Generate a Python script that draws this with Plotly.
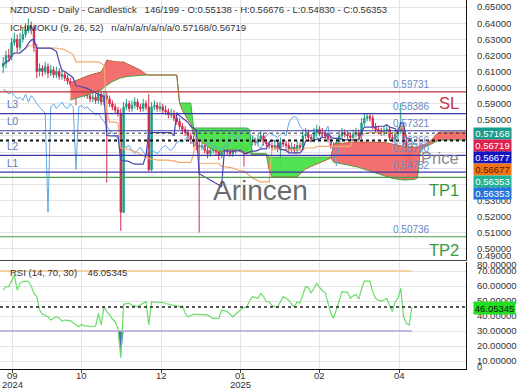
import numpy as np
import plotly.graph_objects as go

# ---------------- data ----------------
first_open_pips = 6130
close_pips = [6150,6200,6190,6280,6300,6250,6300,6330,6360,6380,
              6370,6250,6100,6120,6100,6130,6090,6110,6080,6100,
              6070,6080,6060,6040,6020,6000,5990,5980,5960,5970,
              5950,5930,5940,5920,5960,5910,5950,5930,5900,5880,
              5860,5840,5226,5880,5900,5870,5890,5910,5880,5870,
              5900,5880,5490,5880,5890,5870,5880,5860,5850,5830,
              5840,5810,5790,5760,5740,5720,5700,5680,5660,5640,
              5630,5640,5610,5590,5610,5630,5600,5580,5610,5620,
              5600,5590,5610,5630,5640,5620,5610,5630,5660,5670,
              5660,5680,5700,5660,5650,5640,5630,5640,5620,5660,
              5650,5640,5620,5630,5610,5640,5630,5700,5710,5690,
              5680,5720,5740,5720,5710,5700,5680,5640,5620,5660,
              5700,5720,5710,5700,5690,5710,5720,5700,5780,5810,
              5820,5810,5760,5740,5730,5720,5730,5740,5690,5680,
              5710,5730,5760,5660,5600,5513.8,5635.3]
high_pips = [6190,6230,6240,6310,6340,6330,6340,6370,6400,6430,
             6410,6390,6270,6150,6140,6160,6150,6140,6130,6130,
             6120,6110,6100,6080,6060,6040,6030,6010,6000,6000,
             5990,5970,5970,5960,5990,5980,5980,5970,5950,5920,
             5900,5880,5870,5910,5930,5920,5920,5940,5930,5900,
             5930,5920,5960,5910,5920,5910,5910,5900,5890,5870,
             5870,5860,5830,5810,5780,5760,5740,5720,5700,5680,
             5670,5670,5660,5630,5640,5660,5650,5620,5640,5650,
             5640,5620,5640,5660,5670,5660,5640,5660,5690,5700,
             5690,5710,5730,5720,5680,5670,5660,5670,5660,5690,
             5680,5670,5660,5660,5650,5670,5660,5730,5750,5740,
             5710,5750,5770,5760,5750,5730,5720,5700,5660,5690,
             5730,5750,5740,5730,5720,5740,5750,5740,5810,5840,
             5840,5840,5830,5780,5760,5750,5760,5770,5760,5710,
             5740,5760,5904,5780,5680,5620,5667.6]
low_pips = [6090,6120,6160,6170,6260,6220,6230,6280,6310,6340,
            6330,6220,6060,6070,6070,6080,6060,6070,6060,6060,
            6050,6050,6040,6020,6000,5980,5890,5960,5940,5940,
            5930,5910,5910,5900,5900,5890,5890,5410,5880,5860,
            5840,5820,5110,5220,5860,5850,5850,5870,5860,5850,
            5850,5860,5480,5480,5860,5850,5850,5840,5830,5810,
            5810,5790,5770,5740,5710,5700,5680,5650,5630,5610,
            5100,5610,5590,5560,5570,5590,5580,5550,5560,5590,
            5580,5570,5570,5590,5610,5600,5510,5590,5610,5640,
            5640,5640,5660,5640,5630,5620,5610,5610,5600,5500,
            5630,5620,5600,5600,5590,5590,5610,5610,5680,5670,
            5660,5660,5700,5700,5690,5680,5660,5620,5600,5600,
            5640,5680,5690,5680,5670,5670,5690,5680,5680,5760,
            5790,5790,5740,5720,5710,5700,5700,5710,5670,5660,
            5660,5690,5710,5640,5470,5460,5483]
rsi_values = [57.3,59.6,59.6,63,67.3,57.3,61.8,63,63.3,63,
              60,55,52.9,44,41.1,40.5,39.5,37.3,38.5,39.5,
              38.5,36.7,37.3,37.3,36.9,35.5,34.2,32.9,34.5,33.3,
              33.5,32.9,33.1,33.3,41.8,34,46.2,42.9,40.7,38,
              36.2,31.8,12.2,47.8,48.3,48.5,47.2,46.9,46.2,47.5,
              48.5,49.5,34,49.5,49.3,49.1,49.1,49.1,48.3,47.8,
              47.4,47.3,46.8,46.2,46.9,42,39.5,40.3,41.1,41.1,
              41.1,41,40.8,40.7,39.5,38.4,38.4,38.4,44,43.5,
              42.9,41.2,39.5,41.2,42.9,44.5,45.5,46.2,50,52.9,
              52.4,51.8,55,53,49.5,49.5,47,46.2,45.6,49.5,
              52.9,51.8,50.5,48,46.2,49.5,48.5,54,59.6,58.9,
              55.5,58.5,61.8,59,56.7,55.8,48,41.8,38.4,43.5,
              50,56.2,56,55.8,51.8,53.5,54.4,51.3,58,63.3,
              63.3,63.3,56,51.8,50.5,50,50.7,51.8,47,42.9,
              49.5,51.8,58.4,39.5,35.1,34,46.05345]

# Ichimoku cloud (Senkou spans), starting at bar slot 24
cloud_start = 24
span_a_pips = ([5923,5928,5933,5938,5942,5948,5955,5961,5967,5973,5979,5985,
                6000,6016,6026,6037,6047,6053,6060,6066,6068,6070,6072,6074,6076,6078,6078,6078]
               + [6078] * 11 + [5904] * 5 + [5749] * 20 + [5740] + [5590] * 6 + [5568] * 23
               + [5537,5534,5531,5528,5525,5522,5519,5514,5509,5504,5498,5493,5488,5482,5476,5470,5463,5457]
               + [5451,5445,5439,5436,5433,5430,5428,5426,5426,5426,5426,5430,5439]
               + [5613,5625,5634,5643,5652,5660,5668,5672] + [5675] * 10)
span_b_pips = ([6029,6037,6045,6052,6060,6066,6072,6078,6084,6090,6094,6097,
                6130,6171,6167,6163,6159,6159,6159,6159,6150,6142,6134,6126,6117,6109,6096,6084]
               + [6078] * 11 + [5904,5860,5830,5800,5780]
               + [5706,5690,5675,5660,5643,5633,5623,5613,5608,5604,5600,5606,5613,5613,5613,5613,5606,5600,5600,5597]
               + [5594] + [5581] * 6 + [5488] + [5445] * 10
               + [5463,5482,5495,5503,5510,5518,5526,5533,5540,5548,5555,5562]
               + [5650,5652,5654,5656,5658,5660] + [5662] * 12
               + [5660,5656,5652,5648,5644,5640,5637,5635,5633,5631,5631,5631,5631]
               + [5640,5645,5650,5660,5675,5695,5715,5724] + [5724] * 10)

month_tick_pos = [3.5, 28.1, 56.7, 84.9, 112.8, 141.4]
month_tick_text = ["09", "10", "12", "01", "02", "04"]
year_tick_text = ["2024", "", "", "2025", "", ""]

price_ticks = [0.50, 0.51, 0.52, 0.53, 0.54, 0.55, 0.56, 0.57, 0.58, 0.59,
               0.60, 0.61, 0.62, 0.63, 0.64, 0.65]
rsi_ticks = [10, 20, 30, 40, 50, 60, 70]

level_names = ["SL", "L3", "L0", "L2", "L1", "TP1", "TP2"]
level_values = [0.59731, 0.58386, 0.57321, 0.55790, 0.54752, 0.54429, 0.50736]
level_colors = ["#b83236", "#3a3aa6", "#3a3aa6", "#3a3aa6", "#3a3aa6", "#4b9b4b", "#4b9b4b"]
level_value_labels = [("0.59731", 0.59731), ("0.58386", 0.58386), ("0.57321", 0.57321),
                      ("0.56266", 0.56266), ("0.55790", 0.55790), ("0.54752", 0.54752),
                      ("0.50736", 0.50736)]
dashed_values = [0.57168, 0.56719]
box_values = ["0.57168", "0.56719", "0.56677", "0.56677", "0.56353", "0.56353"]
box_colors = ["#1a9c8c", "#e0204e", "#1414c4", "#f07414", "#22b496", "#2474dc"]
box_text_colors = ["white", "white", "white", "#5a1a00", "white", "white"]
rsi_last = 46.05345

# ---------------- derived ----------------
N = len(close_pips)
x = np.arange(N)
C = np.array(close_pips) / 1e4
H = np.array(high_pips) / 1e4
Lw = np.array(low_pips) / 1e4
O = np.concatenate([[first_open_pips / 1e4], C[:-1]])
rsi = np.array(rsi_values)
span_a = np.array(span_a_pips) / 1e4
span_b = np.array(span_b_pips) / 1e4
xs = np.arange(cloud_start, cloud_start + len(span_a))


def midline(n):
    out = np.empty(N)
    for i in range(N):
        s = max(0, i - n + 1)
        out[i] = (H[s:i + 1].max() + Lw[s:i + 1].min()) / 2
    return out


tenkan = midline(9)
kijun = midline(26)

FONT = "Liberation Sans, Arial, sans-serif"
W, Hh = 520, 390
ML, MR, MT, MB = 0, 54, 0, 21
PW, PH = W - ML - MR, Hh - MT - MB
XR = [-1.14, 165.3]


def px(xp):
    return xp / PW


def py(yp):
    return (PH - yp) / PH


fig = go.Figure()

# cloud
fig.add_trace(go.Scatter(x=xs, y=span_b, mode="lines", line=dict(width=0),
                         hoverinfo="skip", showlegend=False))
fig.add_trace(go.Scatter(x=xs, y=np.maximum(span_a, span_b), mode="lines", line=dict(width=0),
                         fill="tonexty", fillcolor="rgba(72,226,72,0.95)",
                         hoverinfo="skip", showlegend=False))
fig.add_trace(go.Scatter(x=xs, y=span_b, mode="lines", line=dict(width=0),
                         hoverinfo="skip", showlegend=False))
fig.add_trace(go.Scatter(x=xs, y=np.minimum(span_a, span_b), mode="lines", line=dict(width=0),
                         fill="tonexty", fillcolor="rgba(243,104,104,0.95)",
                         hoverinfo="skip", showlegend=False))
fig.add_trace(go.Scatter(x=xs, y=span_a, mode="lines", line=dict(color="#48a848", width=1),
                         showlegend=False))
fig.add_trace(go.Scatter(x=xs, y=span_b, mode="lines", line=dict(color="#b8643c", width=1),
                         showlegend=False))
# ichimoku lines
fig.add_trace(go.Scatter(x=x[26:] - 26, y=C[26:], mode="lines",
                         line=dict(color="#62a8e6", width=1), showlegend=False))
fig.add_trace(go.Scatter(x=x, y=kijun, mode="lines", line=dict(color="#f2aa72", width=1.2),
                         showlegend=False))
fig.add_trace(go.Scatter(x=x, y=tenkan, mode="lines", line=dict(color="#4848b4", width=1.2),
                         showlegend=False))

# candles
fig.add_trace(go.Candlestick(
    x=x, open=O, high=H, low=Lw, close=C, whiskerwidth=0,
    increasing=dict(line=dict(color="#1e9e84", width=1), fillcolor="#1e9e84"),
    decreasing=dict(line=dict(color="#d6284a", width=1), fillcolor="#d6284a"),
    showlegend=False, xaxis="x", yaxis="y"))

# RSI
fig.add_trace(go.Scatter(x=x, y=[30] * N, mode="lines", line=dict(width=0),
                         xaxis="x2", yaxis="y2", hoverinfo="skip", showlegend=False))
fig.add_trace(go.Scatter(x=x, y=np.minimum(rsi, 30), mode="lines", line=dict(width=0),
                         fill="tonexty", fillcolor="#4a68a8",
                         xaxis="x2", yaxis="y2", hoverinfo="skip", showlegend=False))
fig.add_trace(go.Scatter(x=x, y=rsi, mode="lines", line=dict(color="#6ade6a", width=1.2),
                         xaxis="x2", yaxis="y2", showlegend=False))

shapes = []
for v, c in zip(level_values, level_colors):
    shapes.append(dict(type="line", xref="paper", yref="y", x0=0, x1=1, y0=v, y1=v,
                       line=dict(color=c, width=1.2)))
shapes.append(dict(type="line", xref="paper", yref="y", x0=0, x1=1,
                   y0=dashed_values[0], y1=dashed_values[0],
                   line=dict(color="#333333", width=1, dash="3px,3px")))
shapes.append(dict(type="line", xref="paper", yref="y", x0=0, x1=1,
                   y0=dashed_values[1], y1=dashed_values[1],
                   line=dict(color="#111111", width=2, dash="3px,3px")))
shapes.append(dict(type="line", xref="x2", yref="y2", x0=XR[0], x1=x[-1], y0=70, y1=70,
                   line=dict(color="#f7c88a", width=1.5)))
shapes.append(dict(type="line", xref="x2", yref="y2", x0=XR[0], x1=x[-1], y0=30, y1=30,
                   line=dict(color="#b8a4dc", width=1.5)))
shapes.append(dict(type="line", xref="paper", yref="y2", x0=0, x1=1, y0=rsi_last, y1=rsi_last,
                   line=dict(color="#222222", width=1.5, dash="3px,3px")))

ann = []
ann.append(dict(xref="paper", yref="paper", x=px(8), y=py(9), xanchor="left", yanchor="middle",
                text="NZDUSD - Daily - Candlestick   146/199 - O:0.55138 - H:0.56676 - L:0.54830 - C:0.56353",
                showarrow=False, font=dict(family=FONT, size=9.5, color="#333")))
ann.append(dict(xref="paper", yref="paper", x=px(8), y=py(28), xanchor="left", yanchor="middle",
                text="ICHIMOKU (9, 26, 52)   n/a/n/a/n/a/n/a/0.57168/0.56719",
                showarrow=False, font=dict(family=FONT, size=9.5, color="#333")))
ann.append(dict(xref="paper", yref="paper", x=px(8), y=py(273), xanchor="left", yanchor="middle",
                text="RSI (14, 70, 30)    46.05345",
                showarrow=False, font=dict(family=FONT, size=9.5, color="#333")))
for t, v in level_value_labels:
    ann.append(dict(xref="paper", yref="y", x=px(391), y=v, yshift=7, xanchor="left",
                    yanchor="middle", text=t, showarrow=False,
                    font=dict(family=FONT, size=10, color="#6a88c8")))
for name, v in zip(level_names[1:5], level_values[1:5]):
    ann.append(dict(xref="paper", yref="y", x=px(5), y=v, yshift=9, xanchor="left",
                    yanchor="middle", text=name, showarrow=False,
                    font=dict(family=FONT, size=10, color="#5a78bc")))
big = [("SL", 103, "#c83244"), ("Price", 158, "#8a8a8a"), ("TP1", 190, "#3c9a3c"), ("TP2", 250, "#3c9a3c")]
for t, yp, c in big:
    ann.append(dict(xref="paper", yref="paper", x=px(461), y=py(yp), xanchor="right",
                    yanchor="middle", text=t, showarrow=False,
                    font=dict(family=FONT, size=16.5, color=c)))
ann.append(dict(xref="paper", yref="paper", x=px(260), y=py(190), xanchor="center",
                yanchor="middle", text="Arincen", showarrow=False,
                font=dict(family=FONT, size=28, color="rgba(80,80,80,0.85)")))
box_y = [133.3, 145, 157.3, 169.7, 181.5, 193.3]
for t, yp, bc, tc in zip(box_values, box_y, box_colors, box_text_colors):
    ann.append(dict(xref="paper", yref="paper", x=px(473), y=py(yp), xanchor="left",
                    yanchor="middle", text=t, showarrow=False, bgcolor=bc, width=37, height=11,
                    borderpad=0, font=dict(family=FONT, size=9.5, color=tc)))
ann.append(dict(xref="paper", yref="paper", x=px(473), y=py(307.5), xanchor="left",
                yanchor="middle", text="46.05345", showarrow=False, bgcolor="#22de22", width=41,
                height=12, borderpad=0, font=dict(family=FONT, size=9.5, color="#111")))
for t, yp in [("0.49000", 255), ("80.00000", 264), ("0", 366)]:
    ann.append(dict(xref="paper", yref="paper", x=px(475), y=py(yp), xanchor="left",
                    yanchor="middle", text=t, showarrow=False,
                    font=dict(family=FONT, size=9.5, color="#333")))
# month / year labels under the time axis
for pos, m, yr in zip(month_tick_pos, month_tick_text, year_tick_text):
    ann.append(dict(xref="x2", yref="paper", x=pos, y=py(375), xanchor="center",
                    yanchor="middle", text=m, showarrow=False,
                    font=dict(family=FONT, size=9.5, color="#333")))
    if yr:
        ann.append(dict(xref="x2", yref="paper", x=pos, y=py(384.5), xanchor="center",
                        yanchor="middle", text=yr, showarrow=False,
                        font=dict(family=FONT, size=9.5, color="#333")))

fig.update_layout(
    width=W, height=Hh, margin=dict(l=ML, r=MR, t=MT, b=MB, autoexpand=False),
    paper_bgcolor="white", plot_bgcolor="white", showlegend=False,
    font=dict(family=FONT, size=9.5, color="#333"),
    xaxis=dict(domain=[0, 1], range=XR, anchor="y", tickvals=month_tick_pos,
               showticklabels=False, showgrid=True, gridcolor="#e4e4e4", zeroline=False,
               showline=True, linecolor="#444", linewidth=1, rangeslider=dict(visible=False),
               ticks=""),
    xaxis2=dict(domain=[0, 1], range=XR, anchor="y2", tickvals=month_tick_pos,
                showticklabels=False, showgrid=True, gridcolor="#e4e4e4", zeroline=False,
                showline=True, linecolor="#111", linewidth=1, ticks="outside", ticklen=3,
                tickcolor="#444"),
    yaxis=dict(domain=[py(260), 1], range=[0.49292, 0.65441], side="right",
               tickvals=price_ticks, ticktext=[f"{v:.5f}" for v in price_ticks],
               showgrid=True, gridcolor="#e4e4e4", zeroline=False, showline=True,
               linecolor="#111", linewidth=1, ticks="", ticklabelstandoff=8,
               tickfont=dict(family=FONT, size=9.5, color="#333")),
    yaxis2=dict(domain=[0, py(262)], range=[4.67, 76], side="right", anchor="x2",
                tickvals=rsi_ticks, ticktext=[f"{v:.5f}" for v in rsi_ticks],
                showgrid=True, gridcolor="#e4e4e4", zeroline=False, showline=True,
                linecolor="#111", linewidth=1, ticks="", ticklabelstandoff=8,
                tickfont=dict(family=FONT, size=9.5, color="#333")),
    shapes=shapes, annotations=ann,
)

fig.write_html("out.html", config={"displayModeBar": False},
               post_script="document.body.style.margin='0px';")
